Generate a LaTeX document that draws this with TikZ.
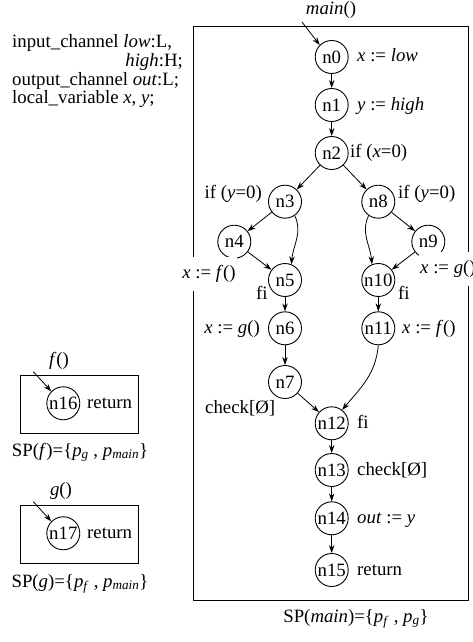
\documentclass[tikz,border=0pt]{standalone}
\usepackage{fontspec}
\setmainfont{Liberation Serif}
\usetikzlibrary{arrows.meta}
\begin{document}
\begin{tikzpicture}[x=1pt,y=1pt,
  font=\fontsize{18.8}{22}\selectfont,
  st/.style={circle,draw,line width=0.9pt,minimum size=33pt,inner sep=0pt},
  lab/.style={inner sep=0pt},
  cov/.style={fill=white,inner xsep=1pt,inner ysep=8pt},
  arr/.style={-{Stealth[length=8pt,width=5.5pt]},line width=0.8pt},
  frame/.style={draw,line width=1pt}]
\useasboundingbox (0,0) rectangle (472,-642);

% declarations
\node[lab,anchor=base west] (t1) at (12,-48) {input\_channel \textit{low}:L,};
\node[lab,anchor=base east] (t2) at (183,-66.5) {\textit{high}:H;};
\node[lab,anchor=base west] (t3) at (12,-85) {output\_channel \textit{out}:L;};
\node[lab,anchor=base west] (t4) at (12,-103.5) {local\_variable \textit{x}, \textit{y};};

% main frame
\draw[frame] (193,-27) rectangle (468,-600);
\node[lab,anchor=base] (mainlab) at (331,-14.5) {\textit{main}()};
\node[lab,anchor=base] (spmain) at (356,-622) {SP(\textit{main})=\{\textit{p}\textsubscript{\textit{f}} , \textit{p}\textsubscript{\textit{g}}\}};

% nodes
\node[st] (n0) at (331.7,-57) {n0};
\node[st] (n1) at (331.7,-105) {n1};
\node[st] (n2) at (331.7,-153) {n2};
\node[st] (n3) at (285,-201.7) {n3};
\node[st] (n8) at (378.3,-201.7) {n8};
\node[st] (n4) at (234.3,-241.7) {n4};
\node[st] (n9) at (428.3,-241.7) {n9};
\node[st] (n5) at (285,-280) {n5};
\node[st] (n10) at (378.3,-280) {n10};
\node[st] (n6) at (285,-328.3) {n6};
\node[st] (n11) at (378.3,-328.3) {n11};
\node[st] (n7) at (285,-382) {n7};
\node[st] (n12) at (331.7,-423.3) {n12};
\node[st] (n13) at (331.7,-470) {n13};
\node[st] (n14) at (331.7,-518.3) {n14};
\node[st] (n15) at (331.7,-570) {n15};

% labels
\node[lab,anchor=base west] (l0) at (357,-62) {\textit{x} := \textit{low}};
\node[lab,anchor=base west] (l1) at (357,-110) {\textit{y} := \textit{high}};
\node[lab,anchor=base west] (l2) at (350,-157) {if (\textit{x}=0)};
\node[lab,anchor=base east] (l3) at (262,-198) {if (\textit{y}=0)};
\node[lab,anchor=base west] (l8) at (398,-198) {if (\textit{y}=0)};
\node[cov] (l4) at (209,-274) {\textit{x} := \textit{f}()};
\node[cov,anchor=west] (l9) at (419,-269) {\textit{x} := \textit{g}()};
\node[lab,anchor=base west] (l5) at (256,-299) {fi};
\node[lab,anchor=base west] (l10) at (398,-299) {fi};
\node[lab,anchor=base east] (l6) at (260,-333) {\textit{x} := \textit{g}()};
\node[lab,anchor=base west] (l11) at (402,-333) {\textit{x} := \textit{f}()};
\node[lab,anchor=base west] (l7) at (205,-413) {check[Ø]};
\node[lab,anchor=base west] (l12) at (357,-428) {fi};
\node[lab,anchor=base west] (l13) at (357,-475.5) {check[Ø]};
\node[lab,anchor=base west] (l14) at (357,-523.5) {\textit{out} := \textit{y}};
\node[lab,anchor=base west] (l15) at (357,-575) {return};

% edges
\coordinate (m0) at (302,-22);
\draw[arr] (m0) -- (n0.135);
\draw[arr] (n0) -- (n1);
\draw[arr] (n1) -- (n2);
\draw[arr] (n2) -- (n3);
\draw[arr] (n2) -- (n8);
\draw[arr] (n3) -- (n4);
\draw[arr] (n4) -- (n5);
\draw[arr] (n3.-55) to[out=-65,in=85] (n5.68);
\draw[arr] (n8) -- (n9);
\draw[arr] (n9) -- (n10);
\draw[arr] (n8.-125) to[out=-115,in=95] (n10.112);
\draw[arr] (n5) -- (n6);
\draw[arr] (n6) -- (n7);
\draw[arr] (n10) -- (n11);
\draw[arr] (n7) -- (n12);
\draw[arr] (n11.south) to[out=-95,in=50] (n12.52);
\draw[arr] (n12) -- (n13);
\draw[arr] (n13) -- (n14);
\draw[arr] (n14) -- (n15);

% f()
\draw[frame] (20.7,-375) rectangle (138.3,-433.3);
\node[lab,anchor=base] (flab) at (59,-365) {\textit{f}()};
\node[st] (n16) at (63.3,-403.3) {n16};
\node[lab,anchor=base west] (l16) at (87,-408.5) {return};
\coordinate (f0) at (33.3,-371.7);
\draw[arr] (f0) -- (n16.135);
\node[lab,anchor=base] (spf) at (80,-456) {SP(\textit{f})=\{\textit{p}\textsubscript{\textit{g}} , \textit{p}\textsubscript{\textit{main}}\}};

% g()
\draw[frame] (20.7,-505) rectangle (138.3,-563.3);
\node[lab,anchor=base] (glab) at (61,-495) {\textit{g}()};
\node[st] (n17) at (63.3,-533.3) {n17};
\node[lab,anchor=base west] (l17) at (87,-538.5) {return};
\coordinate (g0) at (33.3,-501.7);
\draw[arr] (g0) -- (n17.135);
\node[lab,anchor=base] (spg) at (80,-587) {SP(\textit{g})=\{\textit{p}\textsubscript{\textit{f}} , \textit{p}\textsubscript{\textit{main}}\}};
\end{tikzpicture}
\end{document}
